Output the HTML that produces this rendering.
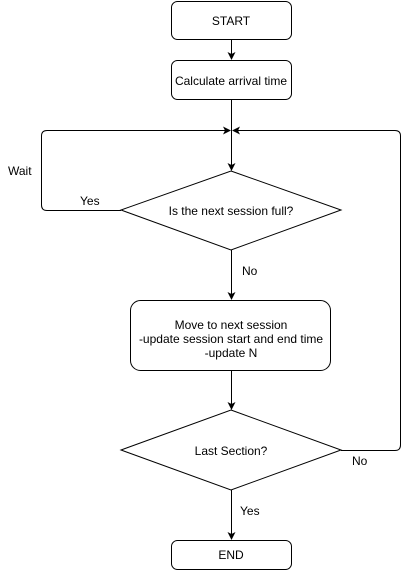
<!DOCTYPE html>
<html><head><style>body{margin:0;background:#fff}</style></head><body>
<svg width="409" height="571" xmlns="http://www.w3.org/2000/svg" font-family="Liberation Sans, sans-serif" font-size="12">
<defs><marker id="a" markerWidth="8" markerHeight="8" refX="7" refY="4" orient="auto" markerUnits="userSpaceOnUse"><path d="M0,0 L8,4 L0,8 L2,4 z" fill="#000"/></marker></defs>
<g fill="#fff" stroke="#000" stroke-width="1">
<rect x="171.5" y="1.5" width="120" height="38" rx="6"/>
<rect x="171.5" y="60.5" width="120" height="39" rx="6"/>
<polygon points="231,171 341,210 231,250 121,210"/>
<rect x="130.5" y="300.5" width="200" height="70" rx="10"/>
<polygon points="231,410 341,450 231,490 121,450"/>
<rect x="171.5" y="540.5" width="120" height="29" rx="6"/>
</g>
<g fill="none" stroke="#000" stroke-width="1">
<path d="M231.5 40 V59" marker-end="url(#a)"/>
<path d="M231.5 100 V170" marker-end="url(#a)"/>
<path d="M121 210.5 H47 Q41.5 210.5 41.5 205 V136 Q41.5 130.5 47 130.5 H230" marker-end="url(#a)"/>
<path d="M341 450.5 H395 Q400.5 450.5 400.5 445 V136 Q400.5 130.5 395 130.5 H233" marker-end="url(#a)"/>
<path d="M231.5 250 V299" marker-end="url(#a)"/>
<path d="M231.5 371 V409" marker-end="url(#a)"/>
<path d="M231.5 490 V539" marker-end="url(#a)"/>
</g>
<g text-anchor="middle" fill="#000">
<text x="231" y="25">START</text>
<text x="231" y="85">Calculate arrival time</text>
<text x="231" y="215">Is the next session full?</text>
<text x="231" y="329">Move to next session</text>
<text x="231" y="343">-update session start and end time</text>
<text x="231" y="357">-update N</text>
<text x="231" y="455">Last Section?</text>
<text x="231" y="559">END</text>
</g>
<g fill="#000">
<text x="8" y="175">Wait</text>
<text x="80" y="205">Yes</text>
<text x="242" y="275">No</text>
<text x="352" y="465">No</text>
<text x="240" y="515">Yes</text>
</g>
</svg>
</body></html>
